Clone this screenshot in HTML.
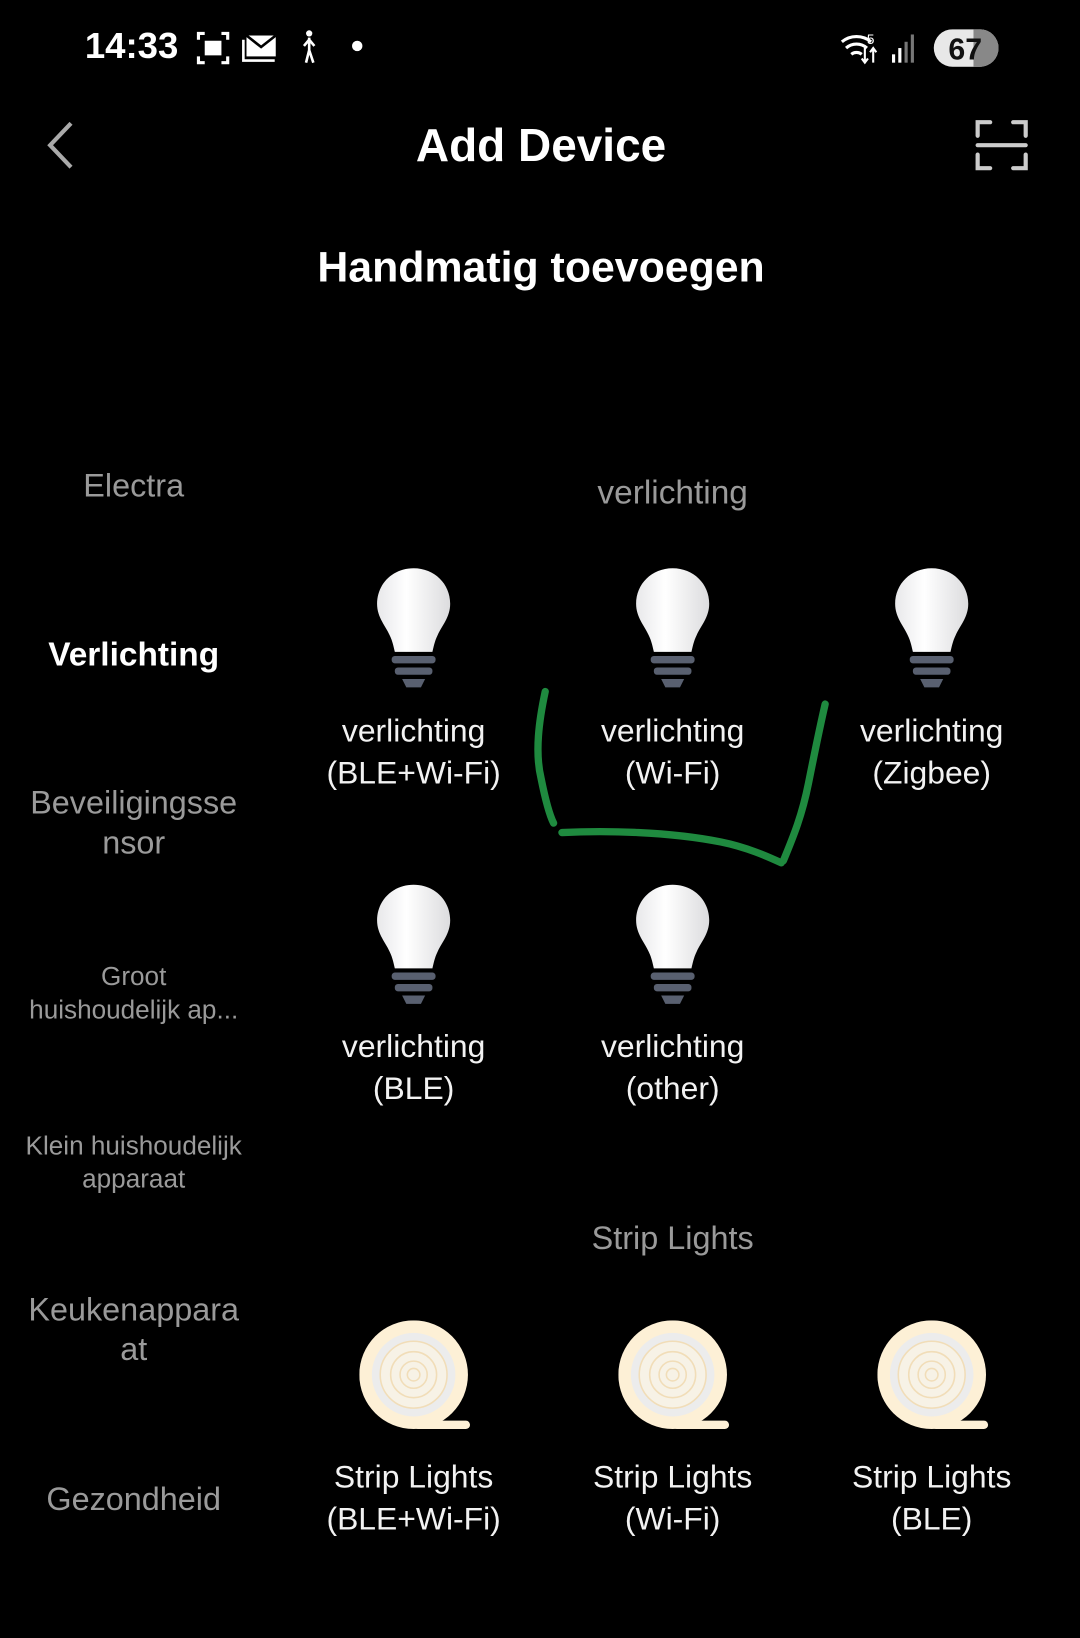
<!DOCTYPE html>
<html><head><meta charset="utf-8"><style>
html,body{margin:0;padding:0;background:#000;width:1080px;height:1638px;overflow:hidden}
#w{position:absolute;left:0;top:0;width:1034px;height:1568px;transform:scale(1.0445,1.0446);transform-origin:0 0;font-family:"Liberation Sans",sans-serif;color:#fff}
.t{position:absolute;white-space:nowrap;transform:translate(-50%,-50%);text-align:center;line-height:1}
.g{color:#9a9a9a}
.lab{font-size:30.5px;line-height:40px;color:#f2f2f2}
svg{position:absolute}
</style></head><body><div id="w">
<div class="t" style="left:126px;top:44px;font-size:35px;font-weight:bold">14:33</div>
<svg style="left:186px;top:28px" width="170" height="36" viewBox="0 0 170 36">
<g fill="none" stroke="#fff" stroke-width="3"><path d="M4 10V4h6M26 4h6v6M32 26v6h-6M10 32H4v-6"/></g>
<rect x="10" y="11" width="16" height="14" fill="#fff"/>
<rect x="50" y="6" width="28" height="20" fill="#fff"/><path d="M50 6l14 11 14-11" stroke="#000" stroke-width="2.5" fill="none"/><path d="M47 10v20h30" stroke="#fff" stroke-width="2.5" fill="none"/>
<circle cx="110" cy="4" r="3" fill="#fff"/><path d="M110 8v12l-3 12M110 20l4 12M105 16l5-6 5 6" stroke="#fff" stroke-width="2.5" fill="none"/>
<circle cx="156" cy="16" r="5" fill="#fff"/>
</svg>
<svg style="left:804px;top:28px" width="156" height="36" viewBox="0 0 156 36">
<g fill="none" stroke="#fff" stroke-width="3"><path d="M2 12a22 22 0 0 1 28 0M6 18a15 15 0 0 1 20 0M11 24a8 8 0 0 1 10 0"/></g>
<text x="26" y="14" font-size="13" fill="#fff" font-family="Liberation Sans">5</text>
<path d="M24 18v14M21 28l3 4 3-4M32 32V18M29 22l3-4 3 4" stroke="#fff" stroke-width="2" fill="none"/>
<g fill="#fff"><rect x="50" y="24" width="3" height="8"/><rect x="56" y="18" width="3" height="14"/></g><g fill="#777"><rect x="62" y="12" width="3" height="20"/><rect x="68" y="5" width="3" height="27"/></g>
<rect x="90" y="0" width="62" height="36" rx="18" fill="#e8e8e8"/><path d="M134 0h0a18 18 0 0 1 0 36h0z" fill="#888"/><rect x="128" y="0" width="8" height="36" fill="#888"/>
<text x="104" y="29" font-size="29" font-weight="bold" fill="#111" font-family="Liberation Sans">67</text>
</svg>
<svg style="left:40px;top:114px" width="36" height="50"><path d="M28 4L8 25l20 21" stroke="#aaa" stroke-width="4" fill="none"/></svg>
<div class="t" style="left:518px;top:140px;font-size:44px;font-weight:bold">Add Device</div>
<svg style="left:930px;top:110px" width="58" height="58" viewBox="0 0 58 58"><g fill="none" stroke="#ccc" stroke-width="4" stroke-linecap="round"><path d="M6 20V7h12M40 7h12v13M52 38v13H40M18 51H6V38"/><path d="M6 29h46"/></g></svg>
<div class="t" style="left:518px;top:256px;font-size:41px;font-weight:bold">Handmatig toevoegen</div>

<div class="t g" style="left:128px;top:465px;font-size:31px">Electra</div>
<div class="t" style="left:128px;top:626px;font-size:32px;font-weight:bold">Verlichting</div>
<div class="t g" style="left:128px;top:788px;font-size:31px;line-height:38px">Beveiligingsse<br>nsor</div>
<div class="t g" style="left:128px;top:951px;font-size:25px;line-height:32px">Groot<br>huishoudelijk ap...</div>
<div class="t g" style="left:128px;top:1113px;font-size:25px;line-height:32px">Klein huishoudelijk<br>apparaat</div>
<div class="t g" style="left:128px;top:1273px;font-size:31px;line-height:38px">Keukenappara<br>at</div>
<div class="t g" style="left:128px;top:1435px;font-size:31px">Gezondheid</div>

<div class="t g" style="left:644px;top:471px;font-size:32px">verlichting</div>
<div class="t g" style="left:644px;top:1185px;font-size:31px">Strip Lights</div>

<svg width="0" height="0"><defs>
<linearGradient id="bg" x1="0" x2="1"><stop offset="0" stop-color="#e8e8ea"/><stop offset=".4" stop-color="#ffffff"/><stop offset="1" stop-color="#dcdcde"/></linearGradient>
<g id="bulb"><path d="M37 2C17 2 2 17 2 36c0 13 8 21 12 30 3 6 4 12 5 16h36c1-4 2-10 5-16 4-9 12-17 12-30C72 17 57 2 37 2z" fill="url(#bg)"/>
<rect x="16" y="86" width="42" height="7" rx="3" fill="#596070"/><rect x="19" y="97" width="36" height="7" rx="3" fill="#596070"/><path d="M26 108h22l-4 8H30z" fill="#596070"/></g>
<g id="strip"><circle cx="52" cy="52" r="52" fill="#fdf0d6"/><circle cx="52" cy="52" r="40" fill="#ececec"/><circle cx="52" cy="52" r="32" fill="#f7f2e6" stroke="#f1ddb8" stroke-width="1.5"/><circle cx="52" cy="52" r="22" fill="none" stroke="#f1ddb8" stroke-width="1.5"/><circle cx="52" cy="52" r="13" fill="none" stroke="#f1ddb8" stroke-width="1.5"/><circle cx="52" cy="52" r="6" fill="none" stroke="#f1ddb8" stroke-width="1.5"/><rect x="52" y="96" width="54" height="8" rx="4" fill="#fdf0d6"/></g>
</defs></svg>

<svg style="left:359px;top:542px" width="74" height="120"><use href="#bulb"/></svg>
<svg style="left:607px;top:542px" width="74" height="120"><use href="#bulb"/></svg>
<svg style="left:855px;top:542px" width="74" height="120"><use href="#bulb"/></svg>
<svg style="left:359px;top:845px" width="74" height="120"><use href="#bulb"/></svg>
<svg style="left:607px;top:845px" width="74" height="120"><use href="#bulb"/></svg>

<div class="t lab" style="left:396px;top:720px">verlichting<br>(BLE+Wi-Fi)</div>
<div class="t lab" style="left:644px;top:720px">verlichting<br>(Wi-Fi)</div>
<div class="t lab" style="left:892px;top:720px">verlichting<br>(Zigbee)</div>
<div class="t lab" style="left:396px;top:1022px">verlichting<br>(BLE)</div>
<div class="t lab" style="left:644px;top:1022px">verlichting<br>(other)</div>

<svg style="left:344px;top:1264px" width="110" height="106"><use href="#strip"/></svg>
<svg style="left:592px;top:1264px" width="110" height="106"><use href="#strip"/></svg>
<svg style="left:840px;top:1264px" width="110" height="106"><use href="#strip"/></svg>
<div class="t lab" style="left:396px;top:1434px">Strip Lights<br>(BLE+Wi-Fi)</div>
<div class="t lab" style="left:644px;top:1434px">Strip Lights<br>(Wi-Fi)</div>
<div class="t lab" style="left:892px;top:1434px">Strip Lights<br>(BLE)</div>

<svg style="left:0;top:0" width="1034" height="1568"><path d="M522 662C516 690 512 720 518 745 522 765 526 780 530 788M538 797C580 795 640 796 690 806 715 811 735 820 748 826M750 824C760 800 768 780 774 750 780 720 784 700 790 674" fill="none" stroke="#1f8a3f" stroke-width="7" stroke-linecap="round"/></svg>
</div></body></html>
